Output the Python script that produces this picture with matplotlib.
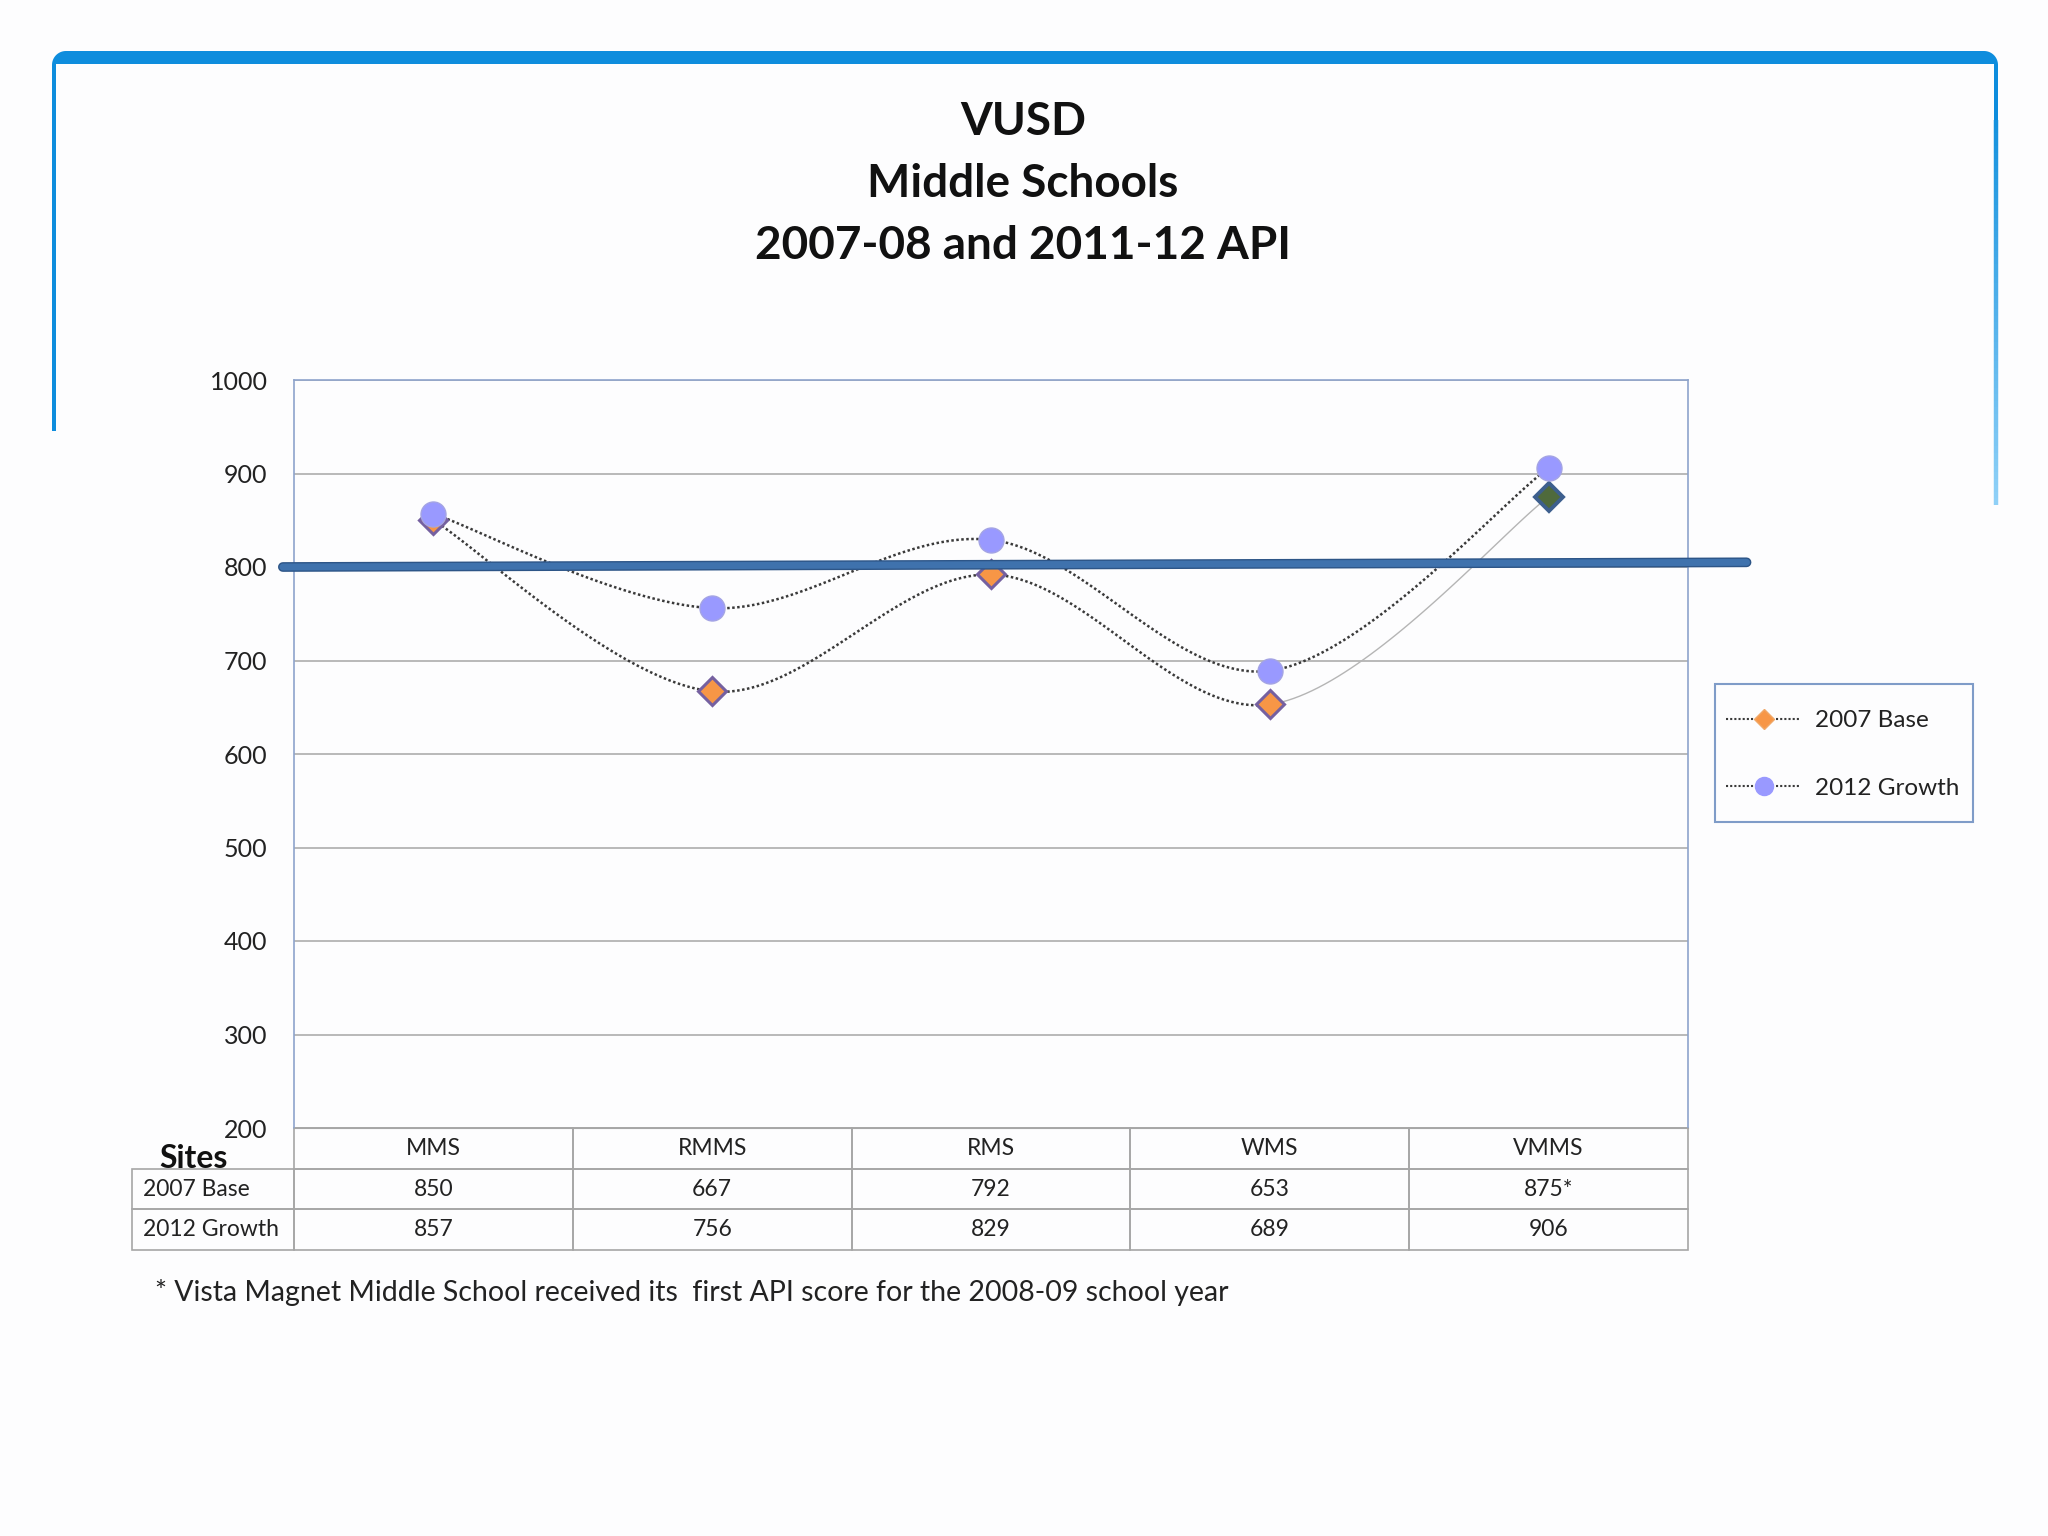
import numpy as np
import matplotlib
matplotlib.use("Agg")
import matplotlib.pyplot as plt
from matplotlib.lines import Line2D
from matplotlib.path import Path
from matplotlib.patches import PathPatch, Rectangle
from matplotlib.table import Table
from matplotlib.collections import LineCollection
import matplotlib.patheffects as pe

plt.rcParams['font.family'] = ['Lato', 'DejaVu Sans']

# data
sites = ["MMS", "RMMS", "RMS", "WMS", "VMMS"]
base_2007 = [850, 667, 792, 653, 875]
growth_2012 = [857, 756, 829, 689, 906]
base_labels = ["850", "667", "792", "653", "875*"]
growth_labels = ["857", "756", "829", "689", "906"]
series_names = ["2007 Base", "2012 Growth"]
target_x = [-0.54, 4.71]
target_y = [800, 805]
y_ticks = [200, 300, 400, 500, 600, 700, 800, 900, 1000]
title_lines = ["VUSD", "Middle Schools", "2007-08 and 2011-12 API"]
footnote = "* Vista Magnet Middle School received its  first API score for the 2008-09 school year"

W, H = 2048, 1536
fig = plt.figure(figsize=(W / 100, H / 100), dpi=100, facecolor='#fdfdfe')


def smooth(ys, n=50):
    # excel-like bezier smoothing, one chunk per segment
    ys = np.asarray(ys, float)
    pts = np.column_stack([np.arange(len(ys), dtype=float), ys])
    segs = []
    t = np.linspace(0, 1, n)[:, None]
    for i in range(len(pts) - 1):
        p0 = pts[max(i - 1, 0)]
        p1 = pts[i]
        p2 = pts[i + 1]
        p3 = pts[min(i + 2, len(pts) - 1)]
        c1 = p1 + (p2 - p0) / 6
        c2 = p2 - (p3 - p1) / 6
        segs.append((1 - t) ** 3 * p1 + 3 * (1 - t) ** 2 * t * c1 + 3 * (1 - t) * t ** 2 * c2 + t ** 3 * p2)
    return segs


# slide frame (pixel coords)
fa = fig.add_axes([0, 0, 1, 1], zorder=-5)
fa.set_xlim(0, W)
fa.set_ylim(H, 0)
fa.axis('off')
r = 14
a1 = np.radians(np.linspace(180, 270, 20))
a2 = np.radians(np.linspace(270, 360, 20))
outer = [(52, 431), (52, 65)]
outer += list(zip(66 + r * np.cos(a1), 65 + r * np.sin(a1)))
outer += list(zip(1984 + r * np.cos(a2), 65 + r * np.sin(a2)))
outer += [(1998, 505), (1994, 505), (1994, 64), (56, 64), (56, 431), (52, 431)]
fa.add_patch(PathPatch(Path(outer), facecolor='#0e8ddd', edgecolor='none'))
ys = np.linspace(120, 505, 60)
segs = [[(1996, ys[i]), (1996, ys[i + 1])] for i in range(len(ys) - 1)]
c0 = np.array(matplotlib.colors.to_rgb('#1592de'))
c1 = np.array(matplotlib.colors.to_rgb('#8fd0f7'))
cols = [c0 + (c1 - c0) * k / (len(segs) - 1) for k in range(len(segs))]
fa.add_collection(LineCollection(segs, colors=cols, linewidths=3.2))
# legend box
fa.add_patch(Rectangle((1715, 684), 258, 138, facecolor='#fdfdfe', edgecolor='#7f9cc8', lw=1.5))

# titles
for i, line in enumerate(title_lines):
    fig.text(1023 / W, 1 - (122 + 62 * i) / H, line, ha='center', va='center',
             fontsize=33, fontweight='bold', color='#111111')

# plot area
ax = fig.add_axes([294 / W, 1 - 1128 / H, 1394 / W, 748 / H])
ax.set_facecolor('none')
ax.set_xlim(-0.5, 4.5)
ax.set_ylim(200, 1000)
ax.set_yticks(y_ticks)
ax.set_xticks([])
ax.tick_params(axis='y', length=0, pad=19, labelsize=18, labelcolor='#222222')
ax.yaxis.grid(True, color='#a6a6a6', lw=1.1)
ax.set_axisbelow(True)
for s in ['left', 'right', 'top']:
    ax.spines[s].set_color('#8ea4cc')
    ax.spines[s].set_linewidth(1.2)
ax.spines['bottom'].set_color('#a6a6a6')

dots = (0, (1, 1))
for i, seg in enumerate(smooth(base_2007)):
    if i < 3:
        ax.plot(seg[:, 0], seg[:, 1], color='#3a3a3a', lw=1.8, ls=dots, zorder=3)
    else:
        ax.plot(seg[:, 0], seg[:, 1], color='#b5b5b5', lw=1.0, zorder=3)
for seg in smooth(growth_2012):
    ax.plot(seg[:, 0], seg[:, 1], color='#3a3a3a', lw=1.8, ls=dots, zorder=3)

x = np.arange(len(sites))
ax.plot(x[:4], base_2007[:4], ls='none', marker='D', ms=14, mfc='#f79646',
        mec='#7560a0', mew=2.2, zorder=4)
ax.plot(x[4:], base_2007[4:], ls='none', marker='D', ms=14, mfc='#4f6a3c',
        mec='#3d5f8e', mew=2.8, zorder=4)
ax.plot(x, growth_2012, ls='none', marker='o', ms=18, mfc='#9999ff',
        mec='#a4a4e4', mew=1, zorder=5)

# hand drawn 800 line
ax.plot(target_x, target_y, color='#3f72ad', lw=5, solid_capstyle='round', clip_on=False,
        zorder=6, path_effects=[pe.Stroke(linewidth=7, foreground='#2d5587'), pe.Normal()])

# data table under the axis
lab_w = 162 / 1394
tbl = Table(ax, bbox=[0, -122 / 748, 1, 122 / 748])
rh = 1.0
for j, s in enumerate(sites):
    tbl.add_cell(0, j, width=0.2, height=rh, text=s, loc='center')
for r_i, (name, vals) in enumerate(zip(series_names, [base_labels, growth_labels]), start=1):
    tbl.add_cell(r_i, -1, width=lab_w, height=rh, text=name, loc='left')
    for j, v in enumerate(vals):
        tbl.add_cell(r_i, j, width=0.2, height=rh, text=v, loc='center')
tbl.auto_set_font_size(False)
for (rr, cc), cell in tbl.get_celld().items():
    cell.set_edgecolor('#a6a6a6')
    cell.set_linewidth(1.2)
    cell.set_facecolor('none')
    cell.get_text().set_fontsize(16.5)
    cell.get_text().set_color('#222222')
    if cc == -1:
        cell.PAD = 0.07
ax.add_table(tbl)

fig.text(159 / W, 1 - 1158 / H, "Sites", fontsize=23, fontweight='bold', va='center', ha='left',
         color='#111111')
fig.text(155 / W, 1 - 1293 / H, footnote, fontsize=20.5, va='center', ha='left', color='#222222')

# legend
handles = [
    Line2D([0], [0], color='#3a3a3a', lw=1.5, ls=dots, marker='D', ms=10,
           mfc='#f79646', mec='#f0a868', mew=1),
    Line2D([0], [0], color='#3a3a3a', lw=1.5, ls=dots, marker='o', ms=13,
           mfc='#9999ff', mec='#9999ff'),
]
leg = fig.legend(handles, series_names, loc='upper left', bbox_to_anchor=(1726 / W, 1 - 710 / H),
                 borderaxespad=0, frameon=False, fontsize=17.5,
                 handlelength=3.1, labelspacing=1.92, borderpad=0,
                 handletextpad=0.58)
for t in leg.get_texts():
    t.set_color('#222222')

fig.savefig("out.png", dpi=100, facecolor=fig.get_facecolor())
